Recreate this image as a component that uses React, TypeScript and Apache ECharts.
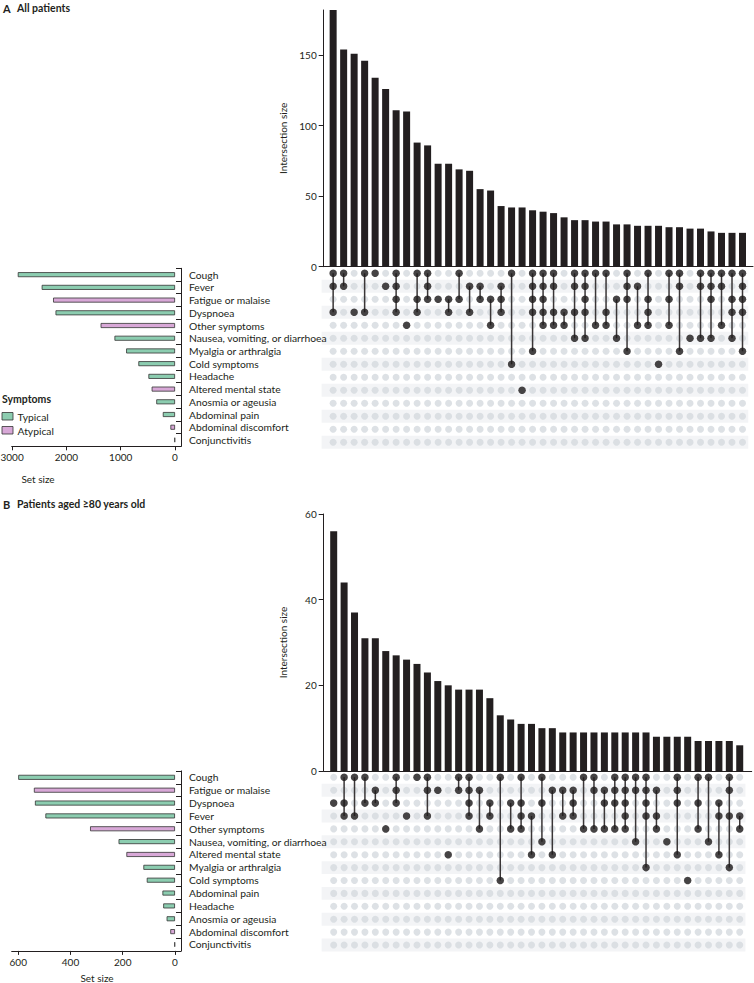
import React, { useEffect, useRef } from "react";
import * as echarts from "echarts";

const FONT = "Lato, 'Open Sans', 'DejaVu Sans', sans-serif";
const GREEN = "#8ccdb0";
const PINK = "#d8a8d7";
const BAR = "#231f20";
const DOT_OFF = "#d5d9de";
const DOT_ON = "#1f1b1c";
const STRIPE = "#f3f4f6";
const TEXT = "#231f20";

const atypicalSets = ["Fatigue or malaise", "Other symptoms", "Altered mental state", "Abdominal discomfort"];

// ---- Panel A: all patients ----
const setsA = [
  "Cough", "Fever", "Fatigue or malaise", "Dyspnoea", "Other symptoms",
  "Nausea, vomiting, or diarrhoea", "Myalgia or arthralgia", "Cold symptoms", "Headache",
  "Altered mental state", "Anosmia or ageusia", "Abdominal pain", "Abdominal discomfort", "Conjunctivitis",
];
const setSizeA = [2895, 2455, 2245, 2200, 1370, 1115, 900, 675, 490, 430, 345, 225, 85, 10];
const intersectA = [
  182, 154, 151, 146, 134, 126, 111, 110, 88, 86,
  73, 73, 69, 68, 55, 54, 43, 42, 42, 40,
  39, 38, 35, 33, 33, 32, 32, 30, 30, 29,
  29, 29, 28, 28, 27, 27, 25, 24, 24, 24,
];
const membersA: number[][] = [
  [0, 1, 3], [0, 1], [3], [0, 3], [0], [1], [0, 1, 2, 3], [4], [0, 2, 3], [0, 1, 2],
  [2], [2, 3], [0, 2], [1, 3], [1, 2], [2, 4], [1, 2, 3], [0, 7], [9], [0, 1, 2, 3, 6],
  [0, 1, 2, 3, 4], [0, 1, 3, 4], [3, 4], [0, 1, 3, 5], [0, 1, 2, 3, 5], [0, 4], [0, 3, 4], [2, 5], [0, 1, 2, 6], [1, 4],
  [0, 2, 3, 4], [7], [0, 2, 4], [0, 1, 6], [5], [0, 1, 5], [0, 1, 2, 5], [0, 1, 4], [0, 2, 3, 5], [0, 1, 2, 3, 6],
];
const barTicksA = [0, 50, 100, 150];
const sizeTicksA = [0, 1000, 2000, 3000];

// ---- Panel B: patients aged >=80 years ----
const setsB = [
  "Cough", "Fatigue or malaise", "Dyspnoea", "Fever", "Other symptoms",
  "Nausea, vomiting, or diarrhoea", "Altered mental state", "Myalgia or arthralgia", "Cold symptoms",
  "Abdominal pain", "Headache", "Anosmia or ageusia", "Abdominal discomfort", "Conjunctivitis",
];
const setSizeB = [600, 540, 536, 496, 325, 216, 186, 121, 108, 48, 45, 32, 18, 2];
const intersectB = [
  56, 44, 37, 31, 31, 28, 27, 26, 25, 23,
  21, 20, 19, 19, 19, 17, 13, 12, 11, 11,
  10, 10, 9, 9, 9, 9, 9, 9, 9, 9,
  9, 8, 8, 8, 8, 7, 7, 7, 7, 6,
];
const membersB: number[][] = [
  [2], [0, 2, 3], [0, 3], [0, 2], [1, 2], [4], [0, 1, 2], [3], [0], [0, 1, 3],
  [1], [6], [0, 1], [0, 1, 2, 3], [1, 4], [2, 3], [0, 8], [2, 4], [0, 2, 3, 4], [3, 6],
  [0, 2, 5], [1, 6], [1, 3], [1, 2, 3], [0, 4], [0, 1, 4], [1, 2, 4], [0, 1, 2, 4], [0, 1, 2, 3, 4], [0, 1, 5],
  [0, 1, 2, 3, 7], [1, 3, 4], [5], [0, 1, 2, 6], [8], [0, 2, 4], [0, 5], [2, 3, 6], [0, 1, 3, 7], [3, 4],
];
const barTicksB = [0, 20, 40, 60];
const sizeTicksB = [0, 200, 400, 600];

type Geo = {
  barLeft: number; barTop: number; barWidth: number; barHeight: number;
  xMin: number; xMax: number; yMax: number;
  matTop: number; matHeight: number;
  sizeLeft: number; sizeWidth: number; sizeTop: number; sizeHeight: number;
  sizeMin: number; sizeMax: number;
};

function buildPanel(
  gi: number,
  sets: string[],
  sizes: number[],
  inter: number[],
  members: number[][],
  barTicks: number[],
  sizeTicks: number[],
  g: Geo
) {
  const nRows = sets.length;
  const gridBase = { outerBoundsMode: "none", containLabel: false };
  const grid = [
    { ...gridBase, left: g.barLeft, top: g.barTop, width: g.barWidth, height: g.barHeight },
    { ...gridBase, left: g.barLeft, top: g.matTop, width: g.barWidth, height: g.matHeight },
    { ...gridBase, left: g.sizeLeft, top: g.sizeTop, width: g.sizeWidth, height: g.sizeHeight },
  ];
  const axisLine = { show: true, onZero: false, lineStyle: { color: TEXT, width: 1 } };
  const plain = (v: number) => String(v);
  const xAxis: any[] = [
    {
      gridIndex: gi, type: "value", min: g.xMin, max: g.xMax,
      axisLine, axisTick: { show: false }, axisLabel: { show: false }, splitLine: { show: false },
    },
    { gridIndex: gi + 1, type: "value", min: g.xMin, max: g.xMax, show: false },
    {
      gridIndex: gi + 2, type: "value", inverse: true, min: g.sizeMin, max: g.sizeMax,
      axisLine,
      axisTick: { show: true, length: 4, customValues: sizeTicks, lineStyle: { color: TEXT } },
      axisLabel: { customValues: sizeTicks, formatter: plain, fontSize: 10, fontFamily: FONT, color: TEXT, margin: 6 },
      splitLine: { show: false },
    },
  ];
  const yAxis: any[] = [
    {
      gridIndex: gi, type: "value", min: 0, max: g.yMax,
      axisLine,
      axisTick: { show: true, length: 5, customValues: barTicks, lineStyle: { color: TEXT } },
      axisLabel: { customValues: barTicks, formatter: plain, fontSize: 10, fontFamily: FONT, color: TEXT, margin: 7 },
      splitLine: { show: false },
      name: "Intersection size", nameLocation: "middle", nameGap: 36,
      nameTextStyle: { fontSize: 10, fontFamily: FONT, color: TEXT },
    },
    { gridIndex: gi + 1, type: "value", min: -0.5, max: nRows - 0.5, inverse: true, show: false },
    {
      gridIndex: gi + 2, type: "category", data: sets, inverse: true, position: "right",
      axisLine,
      axisTick: { show: true, inside: true, length: 5, interval: 0, lineStyle: { color: TEXT } },
      axisLabel: { interval: 0, fontSize: 10.3, fontFamily: FONT, color: TEXT, margin: 8 },
    },
  ];

  const greyDots: number[][] = [];
  for (let i = 0; i < inter.length; i++) for (let r = 0; r < nRows; r++) greyDots.push([i, r]);
  const onDots: number[][] = [];
  const segs: number[][] = [];
  members.forEach((m, i) => {
    m.forEach((r) => onDots.push([i, r]));
    if (m.length > 1) segs.push([i, Math.min(...m), Math.max(...m)]);
  });
  const stripes: number[][] = [];
  for (let r = 1; r < nRows; r += 2) stripes.push([0, r]);

  const series: any[] = [
    {
      type: "bar", xAxisIndex: gi, yAxisIndex: gi, barWidth: 7,
      data: inter.map((v, i) => [i, v]), itemStyle: { color: BAR }, silent: true,
    },
    {
      type: "custom", xAxisIndex: gi + 1, yAxisIndex: gi + 1, data: stripes, z: 0, silent: true,
      renderItem: (_p: any, api: any) => {
        const r = api.value(1);
        const a = api.coord([g.xMin - 0.2, r - 0.5]);
        const b = api.coord([inter.length - 0.45, r + 0.5]);
        return {
          type: "rect",
          shape: { x: a[0], y: Math.min(a[1], b[1]), width: b[0] - a[0], height: Math.abs(b[1] - a[1]) },
          style: { fill: STRIPE },
        };
      },
    },
    {
      type: "scatter", xAxisIndex: gi + 1, yAxisIndex: gi + 1, data: greyDots, symbolSize: 7, z: 2,
      itemStyle: { color: DOT_OFF }, silent: true,
    },
    {
      type: "custom", xAxisIndex: gi + 1, yAxisIndex: gi + 1, data: segs, z: 3, silent: true,
      encode: { x: 0, y: [1, 2] },
      renderItem: (_p: any, api: any) => {
        const i = api.value(0);
        const a = api.coord([i, api.value(1)]);
        const b = api.coord([i, api.value(2)]);
        return {
          type: "line",
          shape: { x1: a[0], y1: a[1], x2: b[0], y2: b[1] },
          style: { stroke: "#3a3637", lineWidth: 1.5 },
        };
      },
    },
    {
      type: "scatter", xAxisIndex: gi + 1, yAxisIndex: gi + 1, data: onDots, symbolSize: 7.5, z: 4,
      itemStyle: { color: DOT_ON }, silent: true,
    },
    {
      type: "bar", xAxisIndex: gi + 2, yAxisIndex: gi + 2, barWidth: 5, silent: true,
      data: sizes.map((v, k) => ({
        value: v,
        itemStyle: {
          color: atypicalSets.includes(sets[k]) ? PINK : GREEN,
          borderColor: "#333",
          borderWidth: 0.8,
        },
      })),
    },
  ];
  return { grid, xAxis, yAxis, series };
}

export default function App() {
  const ref = useRef<HTMLDivElement>(null);
  useEffect(() => {
    if (!ref.current) return;
    const chart = echarts.init(ref.current, undefined, { renderer: "svg" });
    const pA = buildPanel(0, setsA, setSizeA, intersectA, membersA, barTicksA, sizeTicksA, {
      barLeft: 323.7, barTop: 10, barWidth: 429.3, barHeight: 256.7,
      xMin: -0.9, xMax: 40.0, yMax: 182,
      matTop: 266.8, matHeight: 182,
      sizeLeft: 11.7, sizeWidth: 169.3, sizeTop: 268.3, sizeHeight: 178,
      sizeMin: -110, sizeMax: 3007,
    });
    const pB = buildPanel(3, setsB, setSizeB, intersectB, membersB, barTicksB, sizeTicksB, {
      barLeft: 323.7, barTop: 514, barWidth: 428, barHeight: 257,
      xMin: -0.96, xMax: 40.15, yMax: 60,
      matTop: 770.85, matHeight: 180.6,
      sizeLeft: 11.7, sizeWidth: 169.3, sizeTop: 770.9, sizeHeight: 180,
      sizeMin: -23, sizeMax: 625,
    });
    const t = (text: string, x: number, y: number, extra: any = {}) => ({
      type: "text", x, y,
      style: { text, fontFamily: FONT, fontSize: 10, fill: TEXT, textVerticalAlign: "middle", ...extra },
    });
    chart.setOption({
      animation: false,
      backgroundColor: "#ffffff",
      grid: [...pA.grid, ...pB.grid],
      xAxis: [...pA.xAxis, ...pB.xAxis],
      yAxis: [...pA.yAxis, ...pB.yAxis],
      series: [...pA.series, ...pB.series],
      graphic: [
        t("A", 3, 8, { fontWeight: "bold", fontSize: 11 }),
        t("All patients", 17, 8, { fontWeight: "bold", fontSize: 10.5 }),
        t("B", 3, 504, { fontWeight: "bold", fontSize: 11 }),
        t("Patients aged ≥80 years old", 17, 504, { fontWeight: "bold", fontSize: 10.5 }),
        t("Symptoms", 2, 399, { fontWeight: "bold", fontSize: 10.5 }),
        { type: "rect", shape: { x: 2, y: 412.5, width: 11, height: 7.5 }, style: { fill: GREEN, stroke: "#333", lineWidth: 0.8 } },
        t("Typical", 17.5, 416.5, { fontSize: 10.3 }),
        { type: "rect", shape: { x: 2, y: 426.5, width: 11, height: 7.5 }, style: { fill: PINK, stroke: "#333", lineWidth: 0.8 } },
        t("Atypical", 17.5, 430.5, { fontSize: 10.3 }),
        t("Set size", 38, 479, { textAlign: "center", fontSize: 10 }),
        t("Set size", 97, 978, { textAlign: "center", fontSize: 10 }),
      ],
    });
    return () => chart.dispose();
  }, []);
  return (
    <div
      ref={ref}
      style={{ position: "absolute", left: 0, top: 0, width: 754, height: 983, background: "#fff" }}
    />
  );
}
